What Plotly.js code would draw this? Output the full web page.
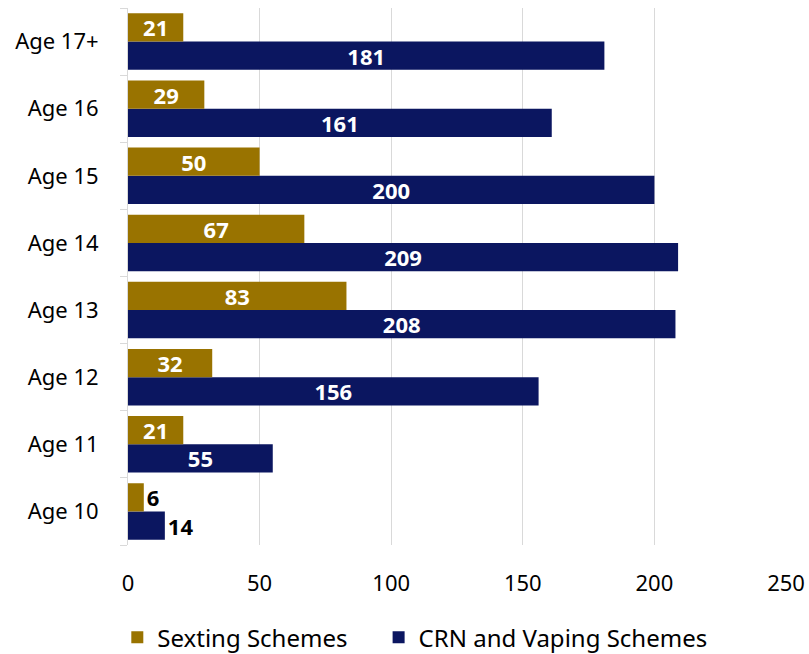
<!DOCTYPE html>
<html><head><meta charset="utf-8">
<script src="https://cdn.plot.ly/plotly-3.0.1.min.js"></script>
<style>html,body{margin:0;padding:0;background:#fff}</style>
</head><body><div id="chart" style="width:809px;height:654px"></div>
<script>
const categories = ["Age 10","Age 11","Age 12","Age 13","Age 14","Age 15","Age 16","Age 17+"];
const sexting = [6,21,32,83,67,50,29,21];
const crnVaping = [14,55,156,208,209,200,161,181];
const xTicks = [0,50,100,150,200,250];

const pos = v => categories.map((c,i)=> i===0 ? 'outside' : 'inside');
const font = "'Noto Sans', 'Open Sans', sans-serif";
const inFont = {color:'#ffffff', size:22, family:font, weight:'bold'};
const outFont = {color:'#000000', size:22, family:font, weight:'bold'};

const traces = [
  {type:'bar', orientation:'h', name:'CRN and Vaping Schemes', y:categories, x:crnVaping,
   marker:{color:'#0B1660'}, text:crnVaping.map(String), textposition:pos(),
   insidetextanchor:'middle', textangle:0, constraintext:'none',
   textfont:{size:22, family:font, weight:'bold'},
   insidetextfont:inFont, outsidetextfont:outFont,
   legend:'legend2', cliponaxis:false, hoverinfo:'x+name'},
  {type:'bar', orientation:'h', name:'Sexting Schemes', y:categories, x:sexting,
   marker:{color:'#997300'}, text:sexting.map(String), textposition:pos(),
   insidetextanchor:'middle', textangle:0, constraintext:'none',
   textfont:{size:22, family:font, weight:'bold'},
   insidetextfont:inFont, outsidetextfont:outFont,
   legend:'legend', cliponaxis:false, hoverinfo:'x+name'}
];

const legendBase = {orientation:'h', xref:'container', yref:'container', xanchor:'left',
    y:0.025, yanchor:'middle', font:{size:24, color:'#000'}, itemwidth:30};

const layout = {
  width:809, height:654,
  margin:{l:128, r:23, t:8, b:109},
  paper_bgcolor:'#fff', plot_bgcolor:'#fff',
  barmode:'group', bargap:0.16, bargroupgap:0,
  font:{family:font, size:22, color:'#000'},
  xaxis:{range:[0,250], tickvals:xTicks, ticktext:xTicks.map(String),
    showgrid:true, gridcolor:'#d9d9d9', gridwidth:1, zeroline:false,
    showline:false, ticks:'', tickfont:{size:22, color:'#000'}, ticklabelstandoff:23},
  yaxis:{showline:true, linecolor:'#d9d9d9', linewidth:1, ticks:'outside',
    tickson:'boundaries', ticklen:7, tickcolor:'#d9d9d9', showgrid:false,
    tickfont:{size:22, color:'#000'}, ticklabelstandoff:24},
  legend:Object.assign({}, legendBase, {x:0.145}),
  legend2:Object.assign({}, legendBase, {x:0.468}),
  showlegend:true
};
Plotly.newPlot('chart', traces, layout, {displayModeBar:false, staticPlot:true});
</script></body></html>
